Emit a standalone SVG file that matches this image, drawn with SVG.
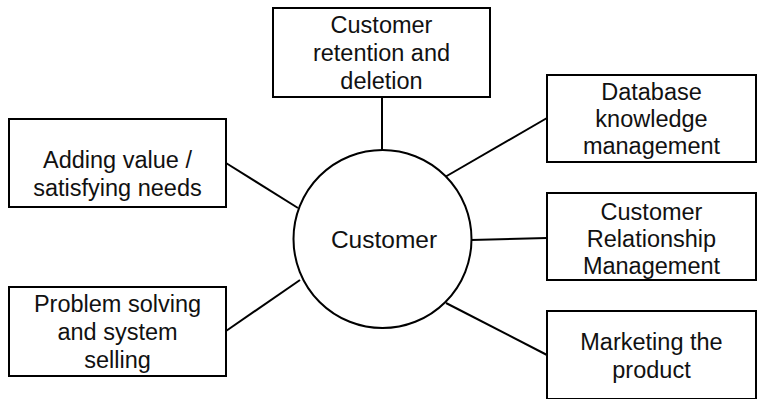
<svg xmlns="http://www.w3.org/2000/svg" width="758" height="399" viewBox="0 0 758 399">
  <style>
    .box { fill: #ffffff; stroke: #000000; stroke-width: 2; }
    .hub { fill: #ffffff; stroke: #000000; stroke-width: 2; }
    .link { stroke: #000000; stroke-width: 2; fill: none; }
    text { font-family: "Liberation Sans", Arial, sans-serif; font-size: 23.5px; fill: #111111; text-anchor: middle; }
    .hub-label { font-size: 24.5px; }
  </style>
  <rect width="758" height="399" fill="#ffffff"/>

  <!-- connectors from the central circle to each box -->
  <g id="connectors">
    <line class="link" x1="382" y1="97" x2="382" y2="151"/>
    <line class="link" x1="226" y1="163" x2="298" y2="208"/>
    <line class="link" x1="226" y1="331" x2="300" y2="280"/>
    <line class="link" x1="445" y1="177" x2="547" y2="118"/>
    <line class="link" x1="471" y1="240" x2="547" y2="238"/>
    <line class="link" x1="446" y1="303" x2="547" y2="355"/>
  </g>

  <g id="customer">
    <circle class="hub" cx="382.5" cy="239" r="89"/>
    <text class="hub-label" x="384" y="248">Customer</text>
  </g>

  <g id="retention">
    <rect class="box" x="273" y="8" width="217" height="89"/>
    <text x="381.5" y="33">Customer</text>
    <text x="381.5" y="61">retention and</text>
    <text x="381.5" y="89">deletion</text>
  </g>

  <g id="adding-value">
    <rect class="box" x="9" y="119" width="217" height="88"/>
    <text x="117.5" y="168">Adding value /</text>
    <text x="117.5" y="196">satisfying needs</text>
  </g>

  <g id="problem-solving">
    <rect class="box" x="9" y="287" width="217" height="89"/>
    <text x="117.5" y="312">Problem solving</text>
    <text x="117.5" y="340">and system</text>
    <text x="117.5" y="368">selling</text>
  </g>

  <g id="database">
    <rect class="box" x="547" y="75" width="209" height="87"/>
    <text x="651.5" y="100">Database</text>
    <text x="651.5" y="127">knowledge</text>
    <text x="651.5" y="154">management</text>
  </g>

  <g id="crm">
    <rect class="box" x="547" y="193" width="209" height="87"/>
    <text x="651.5" y="220">Customer</text>
    <text x="651.5" y="247">Relationship</text>
    <text x="651.5" y="274">Management</text>
  </g>

  <g id="marketing">
    <rect class="box" x="547" y="311" width="209" height="88"/>
    <text x="651.5" y="350">Marketing the</text>
    <text x="651.5" y="378">product</text>
  </g>
</svg>
